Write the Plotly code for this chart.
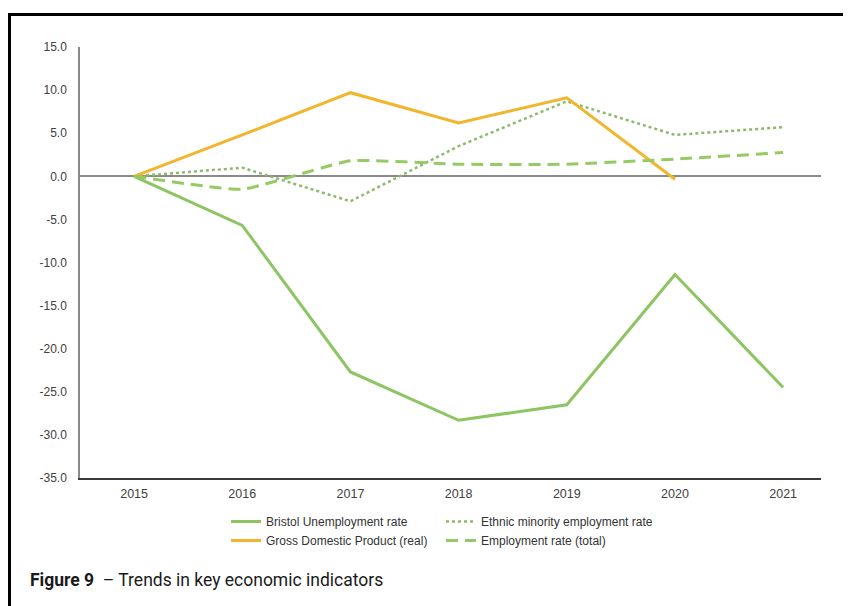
import plotly.graph_objects as go

years = ["2015", "2016", "2017", "2018", "2019", "2020", "2021"]
bristol_unemp = [0.0, -5.7, -22.7, -28.3, -26.5, -11.4, -24.5]
ethnic_emp = [0.0, 1.0, -2.9, 3.5, 8.7, 4.8, 5.7]
gdp_real = [0.0, 4.8, 9.7, 6.2, 9.1, -0.35]
emp_total = [0.0, -1.5, 1.8, 1.4, 1.4, 2.0, 2.75]
y_tick_vals = [15, 10, 5, 0, -5, -10, -15, -20, -25, -30, -35]
y_tick_text = ["15.0", "10.0", "5.0", "0.0", "-5.0", "-10.0", "-15.0", "-20.0", "-25.0", "-30.0", "-35.0"]

GREEN = "#8CC562"
GREEN_DOT = "#8DB96B"
GREEN_DASH = "#96CA64"
GOLD = "#F1B52E"

# page offset (browser body margin) compensation
OX, OY = 8, 8
L, T = 80 - OX, 47 - OY
PW, PH = 741, 431
R = 851 - (L + PW)
B = 606 - (T + PH)

def px(xp):
    return (xp - OX - L) / PW

def py(yp):
    return (T + PH - (yp - OY)) / PH

fig = go.Figure()
fig.add_trace(go.Scatter(x=years, y=bristol_unemp, mode="lines", name="Bristol Unemployment rate",
                         line=dict(color=GREEN, width=3), legend="legend"))
fig.add_trace(go.Scatter(x=years, y=ethnic_emp, mode="lines", name="Ethnic minority employment rate",
                         line=dict(color=GREEN_DOT, width=2.5, dash="dot"),
                         legend="legend2"))
fig.add_trace(go.Scatter(x=years[:len(gdp_real)], y=gdp_real, mode="lines", name="Gross Domestic Product (real)",
                         line=dict(color=GOLD, width=3), legend="legend"))
fig.add_trace(go.Scatter(x=years, y=emp_total, mode="lines", name="Employment rate (total)",
                         line=dict(color=GREEN_DASH, width=3, dash="12px,7px", shape="spline", smoothing=0.4),
                         legend="legend2"))

legfont = dict(family="Liberation Sans, Arial", size=12, color="#333333")

fig.update_layout(
    width=851, height=606,
    margin=dict(l=L, r=R, t=T, b=B),
    paper_bgcolor="white", plot_bgcolor="white",
    xaxis=dict(type="category", range=[-0.5, 6.35], showgrid=False, zeroline=False,
               showline=True, linecolor="#3a3a3a", linewidth=1.5,
               tickfont=dict(family="Liberation Sans, Arial", size=12.5, color="#404040"),
               ticks="", ticklabelstandoff=3, fixedrange=True),
    yaxis=dict(range=[-35, 15], tickmode="array", tickvals=y_tick_vals, ticktext=y_tick_text,
               showgrid=False, zeroline=True, zerolinecolor="#8a8a8a", zerolinewidth=1.5,
               showline=True, linecolor="#8a8a8a", linewidth=1.5,
               tickfont=dict(family="Liberation Sans, Arial", size=12, color="#404040"),
               ticks="", ticklabelstandoff=9),
    legend=dict(x=px(226), y=py(507), xanchor="left", yanchor="top", orientation="v",
                font=legfont, bgcolor="rgba(0,0,0,0)", tracegroupgap=0, itemwidth=30),
    legend2=dict(x=px(441), y=py(507), xanchor="left", yanchor="top", orientation="v",
                 font=legfont, bgcolor="rgba(0,0,0,0)", tracegroupgap=0, itemwidth=30),
    showlegend=True,
    shapes=[dict(type="rect", xref="paper", yref="paper",
                 x0=px(9.5), x1=1.2, y0=-0.5, y1=py(14.5),
                 line=dict(color="black", width=3), fillcolor="rgba(0,0,0,0)", layer="above")],
    annotations=[dict(xref="paper", yref="paper", x=px(28), y=py(580),
                      xanchor="left", yanchor="middle", showarrow=False,
                      text="<b>Figure 9</b>&nbsp;&nbsp;– Trends in key economic indicators",
                      font=dict(family="Roboto", size=17.5, color="#1a1a1a"))],
)

fig.write_html("out.html")
